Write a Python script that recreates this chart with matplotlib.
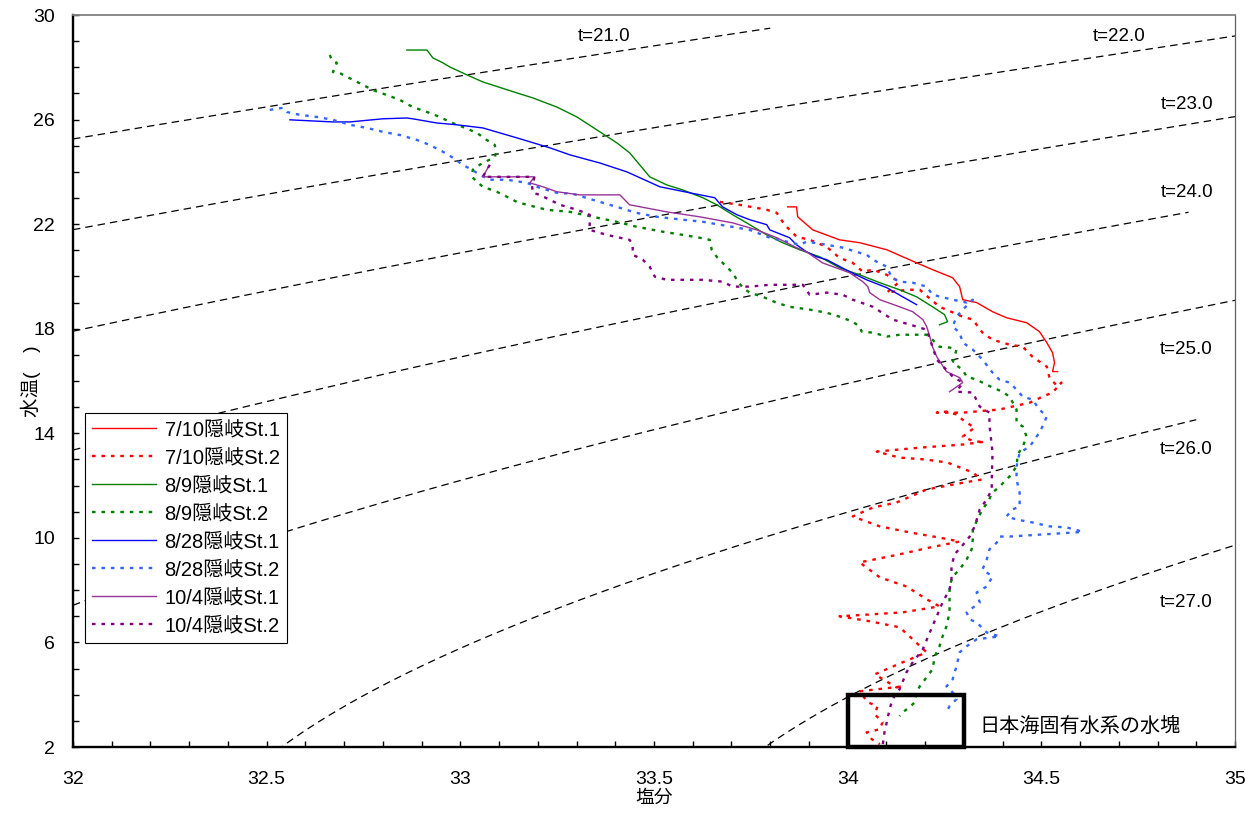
import numpy as np
import matplotlib
matplotlib.use('Agg')
import matplotlib.pyplot as plt
from matplotlib.ticker import MultipleLocator, FixedLocator, FormatStrFormatter
from matplotlib.patches import Rectangle

plt.rcParams['font.family'] = ['Liberation Sans', 'Noto Sans CJK JP']

# T-S profiles (salinity, temperature)
st_0710_1 = [(33.845, 22.66), (33.868, 22.66), (33.871, 22.28), (33.910, 21.78), (33.979, 21.40),
             (34.031, 21.29), (34.101, 21.02), (34.178, 20.52), (34.219, 20.26), (34.271, 19.95),
             (34.289, 19.61), (34.297, 19.11), (34.333, 19.00), (34.374, 18.65), (34.410, 18.42),
             (34.462, 18.23), (34.495, 17.89), (34.514, 17.47), (34.529, 17.08), (34.534, 16.70),
             (34.529, 16.36), (34.542, 16.36)]
st_0710_2 = [(33.670, 22.85), (33.721, 22.74), (33.791, 22.55), (33.817, 22.43), (33.832, 22.09),
             (33.845, 21.86), (33.868, 21.52), (33.902, 21.40), (33.946, 21.13), (33.979, 20.71),
             (34.013, 20.52), (34.039, 20.18), (34.065, 20.26), (34.101, 20.06), (34.134, 19.80),
             (34.101, 19.38), (34.152, 19.49), (34.186, 19.49), (34.237, 18.84), (34.297, 18.46),
             (34.323, 18.35), (34.348, 17.85), (34.374, 17.58), (34.418, 17.39), (34.452, 17.31),
             (34.477, 16.93), (34.514, 16.55), (34.521, 16.13), (34.542, 15.79), (34.552, 15.94),
             (34.529, 15.56), (34.503, 15.40), (34.470, 15.17), (34.392, 14.91), (34.297, 14.79),
             (34.230, 14.79), (34.255, 14.83), (34.281, 14.72), (34.302, 14.45), (34.328, 14.22),
             (34.297, 13.87), (34.328, 13.68), (34.354, 13.68), (34.297, 13.57), (34.186, 13.45),
             (34.075, 13.30), (34.134, 13.07), (34.199, 13.00), (34.258, 12.88), (34.323, 12.50),
             (34.346, 12.23), (34.302, 12.12), (34.204, 11.85), (34.126, 11.35), (34.065, 11.16),
             (34.013, 10.82), (34.083, 10.44), (34.160, 10.21), (34.237, 10.01), (34.289, 9.86),
             (34.212, 9.63), (34.134, 9.37), (34.031, 9.06), (34.083, 8.49), (34.152, 8.14),
             (34.204, 7.65), (34.237, 7.38), (34.142, 7.15), (34.057, 7.07), (33.979, 7.00),
             (34.057, 6.81), (34.134, 6.58), (34.168, 6.12), (34.204, 5.62), (34.142, 5.24),
             (34.070, 4.78), (34.126, 4.28), (34.142, 4.32), (34.031, 4.13), (34.052, 3.71),
             (34.077, 3.56), (34.070, 3.25), (34.090, 2.95), (34.083, 2.68), (34.049, 2.56),
             (34.062, 2.30), (34.083, 2.11)]
st_0809_1 = [(32.862, 28.66), (32.914, 28.66), (32.929, 28.36), (32.955, 28.17), (32.973, 28.01),
             (33.017, 27.71), (33.058, 27.44), (33.146, 27.02), (33.187, 26.83), (33.249, 26.48),
             (33.301, 26.10), (33.352, 25.61), (33.404, 25.11), (33.437, 24.73), (33.489, 23.81),
             (33.533, 23.50), (33.574, 23.31), (33.626, 23.01), (33.662, 22.74), (33.703, 22.36),
             (33.747, 21.98), (33.791, 21.59), (33.832, 21.29), (33.876, 21.02), (33.928, 20.75),
             (33.979, 20.33), (34.031, 20.06), (34.083, 19.76), (34.134, 19.49), (34.178, 19.22),
             (34.219, 18.84), (34.250, 18.54), (34.258, 18.27), (34.237, 18.15)]
st_0809_2 = [(32.663, 28.47), (32.668, 28.28), (32.681, 28.17), (32.671, 27.82), (32.689, 27.78),
             (32.702, 27.67), (32.723, 27.52), (32.748, 27.33), (32.774, 27.13), (32.810, 26.94),
             (32.844, 26.75), (32.877, 26.48), (32.914, 26.29), (32.947, 26.10), (32.973, 25.91),
             (33.006, 25.72), (33.043, 25.49), (33.068, 25.22), (33.089, 25.03), (33.092, 24.73),
             (33.089, 24.57), (33.050, 24.27), (33.032, 24.08), (33.030, 23.81), (33.043, 23.62),
             (33.058, 23.43), (33.094, 23.24), (33.120, 23.05), (33.146, 22.85), (33.172, 22.74),
             (33.223, 22.55), (33.283, 22.47), (33.342, 22.28), (33.404, 22.09), (33.455, 21.90),
             (33.523, 21.71), (33.574, 21.59), (33.618, 21.48), (33.644, 21.40), (33.649, 21.02),
             (33.662, 20.75), (33.677, 20.52), (33.703, 20.14), (33.714, 19.87), (33.729, 19.57),
             (33.747, 19.38), (33.781, 19.22), (33.817, 18.99), (33.850, 18.84), (33.902, 18.73),
             (33.946, 18.61), (33.979, 18.46), (34.013, 18.27), (34.031, 18.08), (34.036, 17.89),
             (34.065, 17.85), (34.101, 17.70), (34.134, 17.77), (34.204, 17.77), (34.219, 17.58),
             (34.237, 17.31), (34.263, 17.28), (34.281, 17.20), (34.271, 16.70), (34.297, 16.43),
             (34.307, 16.17), (34.333, 16.05), (34.359, 15.86), (34.374, 15.75), (34.400, 15.59),
             (34.418, 15.40), (34.436, 14.91), (34.436, 14.41), (34.452, 14.26), (34.462, 13.87),
             (34.452, 13.49), (34.439, 13.19), (34.436, 12.73), (34.418, 12.35), (34.392, 11.96),
             (34.374, 11.73), (34.361, 11.35), (34.348, 11.09), (34.335, 10.70), (34.323, 10.32),
             (34.323, 9.94), (34.320, 9.56), (34.307, 9.17), (34.289, 8.79), (34.271, 8.52),
             (34.263, 8.14), (34.263, 7.65), (34.263, 7.15), (34.255, 6.61), (34.245, 6.23),
             (34.237, 5.85), (34.225, 5.47), (34.219, 4.97), (34.204, 4.67), (34.186, 4.32),
             (34.178, 4.09), (34.173, 3.71), (34.160, 3.52), (34.142, 3.33), (34.134, 3.18)]
st_0828_1 = [(32.560, 25.99), (32.671, 25.91), (32.715, 25.91), (32.800, 26.03), (32.862, 26.06),
             (32.877, 26.03), (32.939, 25.87), (32.991, 25.80), (33.058, 25.68), (33.146, 25.30),
             (33.231, 24.92), (33.283, 24.65), (33.360, 24.34), (33.430, 24.00), (33.515, 23.43),
             (33.592, 23.20), (33.657, 23.01), (33.677, 22.66), (33.714, 22.36), (33.747, 22.17),
             (33.791, 21.98), (33.799, 21.78), (33.850, 21.48), (33.868, 21.21), (33.894, 20.94),
             (33.920, 20.75), (33.946, 20.64), (34.005, 20.18), (34.049, 19.87), (34.101, 19.57),
             (34.142, 19.22), (34.178, 18.92)]
st_0828_2 = [(32.508, 26.37), (32.542, 26.45), (32.552, 26.29), (32.586, 26.18), (32.630, 26.10),
             (32.671, 25.99), (32.715, 25.80), (32.759, 25.68), (32.800, 25.53), (32.844, 25.41),
             (32.888, 25.22), (32.921, 25.03), (32.955, 24.77), (32.981, 24.54), (33.006, 24.27),
             (33.030, 24.08), (33.050, 23.89), (33.076, 23.70), (33.120, 23.70), (33.172, 23.58),
             (33.205, 23.39), (33.249, 23.20), (33.290, 23.16), (33.342, 22.93), (33.404, 22.66),
             (33.455, 22.43), (33.507, 22.28), (33.574, 22.17), (33.626, 22.09), (33.670, 21.98),
             (33.747, 21.78), (33.799, 21.48), (33.843, 21.33), (33.876, 21.21), (33.894, 21.33),
             (33.946, 21.21), (33.987, 21.10), (34.023, 20.94), (34.049, 20.83), (34.065, 20.64),
             (34.101, 20.37), (34.114, 19.95), (34.134, 19.80), (34.168, 19.76), (34.204, 19.61),
             (34.219, 19.30), (34.271, 19.11), (34.307, 19.00), (34.323, 19.11), (34.297, 18.73),
             (34.281, 18.46), (34.271, 18.08), (34.289, 17.85), (34.297, 17.47), (34.323, 17.20),
             (34.348, 16.82), (34.374, 16.32), (34.392, 16.05), (34.418, 15.94), (34.436, 15.67),
             (34.452, 15.40), (34.477, 15.29), (34.495, 14.91), (34.514, 14.64), (34.503, 14.26),
             (34.495, 14.03), (34.470, 13.49), (34.444, 13.26), (34.436, 12.73), (34.436, 12.23),
             (34.444, 11.73), (34.444, 11.20), (34.426, 11.09), (34.410, 10.82), (34.436, 10.70),
             (34.477, 10.59), (34.521, 10.44), (34.565, 10.40), (34.606, 10.24), (34.591, 10.21),
             (34.503, 10.13), (34.418, 10.05), (34.392, 10.05), (34.385, 9.82), (34.366, 9.56),
             (34.359, 9.17), (34.348, 8.79), (34.374, 8.52), (34.359, 8.14), (34.333, 7.91),
             (34.341, 7.53), (34.307, 7.15), (34.315, 6.88), (34.333, 6.77), (34.359, 6.38),
             (34.392, 6.23), (34.333, 6.12), (34.307, 5.85), (34.289, 5.62), (34.281, 5.09),
             (34.271, 4.59), (34.255, 4.32), (34.271, 4.09), (34.281, 3.83), (34.263, 3.56),
             (34.255, 3.33)]
st_1004_1 = [(33.071, 24.15), (33.058, 23.81), (33.192, 23.81), (33.179, 23.58), (33.213, 23.43),
             (33.249, 23.24), (33.308, 23.12), (33.412, 23.12), (33.437, 22.74), (33.533, 22.47),
             (33.618, 22.28), (33.703, 22.05), (33.765, 21.78), (33.817, 21.48), (33.868, 21.10),
             (33.894, 20.94), (33.935, 20.52), (34.005, 20.14), (34.039, 19.80), (34.052, 19.61),
             (34.057, 19.38), (34.083, 19.11), (34.134, 18.84), (34.168, 18.65), (34.194, 18.35),
             (34.204, 18.08), (34.212, 17.70), (34.219, 17.31), (34.230, 16.93), (34.255, 16.36),
             (34.289, 16.13), (34.297, 15.94), (34.271, 15.67), (34.263, 15.59)]
st_1004_2 = [(33.076, 24.27), (33.058, 23.81), (33.192, 23.81), (33.185, 23.50), (33.187, 23.20),
             (33.205, 23.12), (33.231, 22.93), (33.257, 22.74), (33.301, 22.55), (33.334, 22.36),
             (33.334, 21.78), (33.378, 21.59), (33.437, 21.40), (33.445, 21.21), (33.445, 20.83),
             (33.471, 20.64), (33.489, 20.37), (33.502, 19.99), (33.533, 19.87), (33.626, 19.87),
             (33.677, 19.80), (33.703, 19.61), (33.747, 19.61), (33.799, 19.68), (33.884, 19.68),
             (33.902, 19.30), (33.946, 19.38), (33.987, 19.30), (34.013, 19.11), (34.065, 18.84),
             (34.116, 18.35), (34.178, 18.08), (34.204, 17.96), (34.219, 17.31), (34.230, 16.82),
             (34.271, 16.17), (34.297, 15.94), (34.281, 15.59), (34.323, 15.56), (34.341, 15.02),
             (34.366, 14.79), (34.366, 14.33), (34.374, 13.26), (34.372, 12.23), (34.372, 11.85),
             (34.359, 11.47), (34.341, 11.09), (34.328, 10.44), (34.315, 10.05), (34.294, 9.67),
             (34.276, 9.37), (34.268, 8.91), (34.268, 8.41), (34.263, 8.03), (34.245, 7.53),
             (34.230, 7.00), (34.212, 6.38), (34.194, 5.74), (34.168, 5.24), (34.152, 4.86),
             (34.134, 4.21), (34.116, 3.83), (34.108, 3.44), (34.101, 2.95), (34.095, 2.56),
             (34.090, 2.03)]

labels = ['7/10隠岐St.1', '7/10隠岐St.2', '8/9隠岐St.1', '8/9隠岐St.2',
          '8/28隠岐St.1', '8/28隠岐St.2', '10/4隠岐St.1', '10/4隠岐St.2']
profiles = [st_0710_1, st_0710_2, st_0809_1, st_0809_2,
            st_0828_1, st_0828_2, st_1004_1, st_1004_2]
colors = ['#FF0000', '#FF0000', '#008000', '#008000',
          '#0000FF', '#3366FF', '#993399', '#800080']

# sigma-t isolines and the salinity span each one covers
sigma_levels = [21.0, 22.0, 23.0, 24.0, 25.0, 26.0, 27.0]
sigma_s_start = [32.0, 32.0, 32.0, 32.0, 32.0, 32.0, 32.0]
sigma_s_end = [33.8, 35.0, 35.0, 34.88, 35.0, 34.9, 35.0]
sigma_label_s = [33.37, 34.70, 34.875, 34.875, 34.875, 34.875, 34.875]
sigma_label_t = [29.16, 29.16, 26.56, 23.2, 17.2, 13.38, 7.53]


def sigma_t(S, T):
    # UNESCO EOS-80 at surface pressure
    rho_w = (999.842594 + 6.793952e-2 * T - 9.095290e-3 * T**2 + 1.001685e-4 * T**3
             - 1.120083e-6 * T**4 + 6.536332e-9 * T**5)
    A = 8.24493e-1 - 4.0899e-3 * T + 7.6438e-5 * T**2 - 8.2467e-7 * T**3 + 5.3875e-9 * T**4
    B = -5.72466e-3 + 1.0227e-4 * T - 1.6546e-6 * T**2
    C = 4.8314e-4
    return rho_w + A * S + B * S**1.5 + C * S**2 - 1000.0


def isopycnal(sig, s0, s1):
    s = np.linspace(s0, s1, 200)
    tgrid = np.linspace(-2, 35, 2000)
    t = []
    for si in s:
        d = sigma_t(si, tgrid)
        if sig > d.max() or sig < d.min():
            t.append(np.nan)
        else:
            t.append(np.interp(sig, d[::-1], tgrid[::-1]))
    return s, np.array(t)


fig = plt.figure(figsize=(12.57, 8.21), dpi=100)
ax = fig.add_axes([73 / 1257, 1 - 747 / 821, 1162 / 1257, 732 / 821])

for sig, s0, s1, ls, lt in zip(sigma_levels, sigma_s_start, sigma_s_end, sigma_label_s, sigma_label_t):
    s, t = isopycnal(sig, s0, s1)
    ax.plot(s, t, color='black', lw=0.9, linestyle=(0, (6, 4)), zorder=1)
    ax.text(ls, lt, f't={sig:.1f}', fontsize=13.5, ha='center', va='center', zorder=2)

for i, (prof, lab, col) in enumerate(zip(profiles, labels, colors)):
    arr = np.array(prof)
    if i % 2 == 0:
        ax.plot(arr[:, 0], arr[:, 1], color=col, lw=1.0, label=lab, zorder=3)
    else:
        ax.plot(arr[:, 0], arr[:, 1], color=col, lw=1.7, linestyle=(0, (1.5, 2.5)),
                label=lab, zorder=3)

# box marking the Japan Sea Proper Water
ax.add_patch(Rectangle((34.0, 2.0), 0.3, 2.0, fill=False, edgecolor='black', lw=3.2,
                       clip_on=False, zorder=6))
ax.text(34.34, 2.79, '日本海固有水系の水塊', fontsize=14.5, ha='left', va='center')

ax.set_xlim(32, 35)
ax.set_ylim(2, 30)
ax.xaxis.set_major_locator(FixedLocator([32, 32.5, 33, 33.5, 34, 34.5, 35]))
ax.xaxis.set_major_formatter(FormatStrFormatter('%g'))
ax.xaxis.set_minor_locator(MultipleLocator(0.1))
ax.yaxis.set_major_locator(FixedLocator([2, 6, 10, 14, 18, 22, 26, 30]))
ax.yaxis.set_minor_locator(MultipleLocator(1))
ax.tick_params(which='both', direction='in', length=4, width=1, top=False, right=False)
ax.tick_params(axis='x', which='major', labelsize=14, pad=17)
ax.tick_params(axis='y', which='major', labelsize=14, pad=13)

for side in ['left', 'bottom']:
    ax.spines[side].set_linewidth(1.7)
    ax.spines[side].set_color('black')
ax.spines['top'].set_color('#808080')
ax.spines['top'].set_linewidth(1.3)
ax.spines['right'].set_color('#606060')
ax.spines['right'].set_linewidth(0.9)

ax.set_xlabel('塩分', fontsize=13.5)
ax.xaxis.set_label_coords(0.5, -0.058)
ax.set_ylabel('水温(\u3000)', fontsize=14)
ax.yaxis.set_label_coords(-0.0275, 0.5)

leg = ax.legend(loc='upper left', bbox_to_anchor=(12 / 1162, 334 / 732), borderaxespad=0,
                fontsize=14.5, frameon=True, fancybox=False, handlelength=3.2,
                handletextpad=0.4, labelspacing=0.45, borderpad=0.35)
leg.get_frame().set_edgecolor('black')
leg.get_frame().set_linewidth(0.8)
leg.get_frame().set_alpha(1)

fig.savefig('out.png', dpi=100)
